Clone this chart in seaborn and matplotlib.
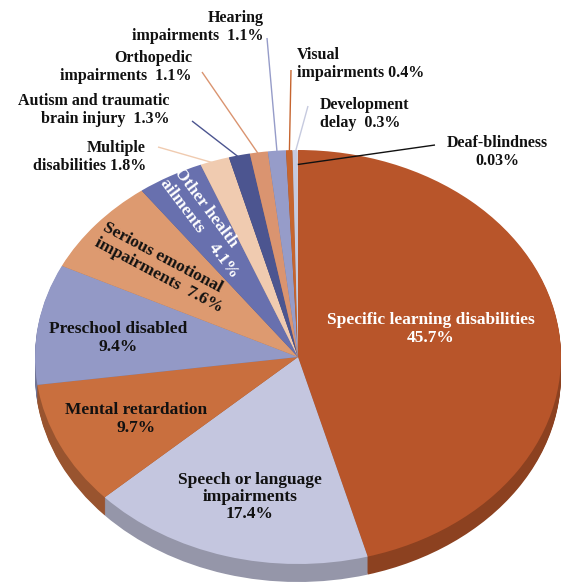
import numpy as np
import matplotlib
matplotlib.use("Agg")
import matplotlib.pyplot as plt
import matplotlib.colors as mcolors
import seaborn as sns

# Share of students served, by disability category (clockwise from 12 o'clock)
categories = [
    "Specific learning disabilities",
    "Speech or language\nimpairments",
    "Mental retardation",
    "Preschool disabled",
    "Serious emotional\nimpairments",
    "Other health\nailments",
    "Multiple\ndisabilities",
    "Autism and traumatic\nbrain injury",
    "Orthopedic\nimpairments",
    "Hearing\nimpairments",
    "Visual\nimpairments",
    "Development\ndelay",
    "Deaf-blindness",
]
shares = [45.7, 17.4, 9.7, 9.4, 7.6, 4.1, 1.8, 1.3, 1.1, 1.1, 0.4, 0.3, 0.03]

# How each value is joined to its name in the label
joiners = ["\n", "\n", "\n", "\n", "  ", "    ", " ", "  ", "  ", "  ", " ", "  ", "\n"]

slice_colors = [
    "#B8552A", "#C4C6DF", "#C96F3E", "#9399C6", "#DD9A70", "#6870AE",
    "#F0CBB0", "#4C5590", "#DA9470", "#969CC9", "#C6652F", "#C6CADF", "#ECECF2",
]

sns.set_theme(style="white")
plt.rcParams["font.family"] = ["Liberation Serif", "DejaVu Serif"]

W, H = 561, 587
fig = plt.figure(figsize=(W / 100, H / 100), dpi=100)
ax = fig.add_axes([0, 0, 1, 1])

# Pie geometry in figure pixels: centre and the two radii of the tilted disc
CX, CY, RX, RY = 298, 357, 263, 207
DEPTH = 18  # thickness of the disc edge, pixels


def to_data(x, y):
    return (x - CX) / RX, (CY - y) / RY


def darker(c, f=0.76):
    r, g, b = mcolors.to_rgb(c)
    return (r * f, g * f, b * f)


side_colors = [darker(c) for c in slice_colors]

# Disc edge: stacked copies shifted downwards
n_layers = DEPTH
for k in range(n_layers, 0, -1):
    off = k / RY
    ax.pie(shares, colors=side_colors, startangle=90, counterclock=False,
           radius=1.0, center=(0, -off), wedgeprops=dict(linewidth=0),
           frame=False)

wedges, _ = ax.pie(shares, colors=slice_colors, startangle=90,
                   counterclock=False, radius=1.0, center=(0, 0),
                   wedgeprops=dict(linewidth=0), frame=False)

ax.set_aspect("auto")
ax.set_xlim(-CX / RX, (W - CX) / RX)
ax.set_ylim(-(H - CY) / RY, CY / RY)
ax.axis("off")

labels = [f"{n}{j}{v:g}%" for n, j, v in zip(categories, joiners, shares)]

inner_font = dict(fontsize=12.5, fontweight="bold", linespacing=1.1)
outer_font = dict(fontsize=11.5, fontweight="bold", linespacing=1.2)

# Labels inside the slices: (pixel x, pixel y, rotation, colour)
inside = {
    0: (431, 329, 0, "white"),
    1: (250, 497, 0, "#111111"),
    2: (136, 419, 0, "#111111"),
    3: (118, 338, 0, "#111111"),
    4: (163, 268, -28, "#111111"),
    5: (206, 223, -53, "white"),
}
for i, (x, y, rot, col) in inside.items():
    dx, dy = to_data(x, y)
    ax.text(dx, dy, labels[i], ha="center", va="center", rotation=rot,
            rotation_mode="anchor", color=col,
            multialignment="left" if rot else "center", **inner_font)

# Labels outside with leader lines: (text x, text y, ha, line start x, y)
outside = {
    6: (146, 157, "right", 158, 147),
    7: (170, 110, "right", 192, 121),
    8: (192, 67, "right", 202, 72),
    9: (264, 27, "right", 267, 38),
    10: (297, 64, "left", 291, 70),
    11: (320, 114, "left", 308, 106),
    12: (497, 152, "center", 435, 145),
}
for i, (x, y, ha, lx, ly) in outside.items():
    w = wedges[i]
    mid = np.deg2rad((w.theta1 + w.theta2) / 2)
    r = 0.93 if i == 12 else 0.985
    ex, ey = r * np.cos(mid), r * np.sin(mid)
    sx, sy = to_data(lx, ly)
    line_col = "#111111" if i == 12 else slice_colors[i]
    ax.plot([sx, ex], [sy, ey], color=line_col, lw=1.0, solid_capstyle="butt")
    dx, dy = to_data(x, y)
    ax.text(dx, dy, labels[i], ha=ha, va="center", color="#111111",
            multialignment=ha, **outer_font)

fig.savefig("out.png", dpi=100, facecolor="white")
